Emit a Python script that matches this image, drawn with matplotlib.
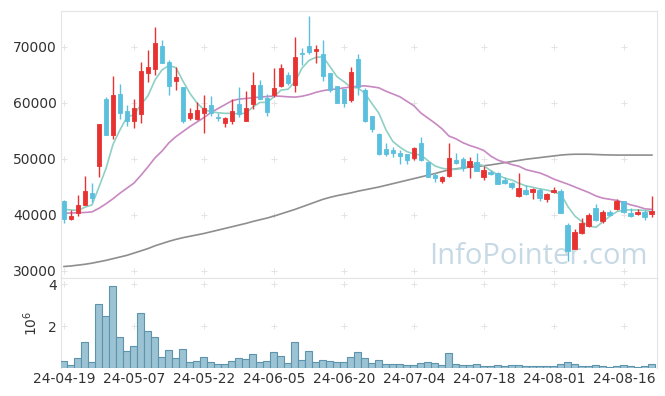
import numpy as np
import matplotlib as mpl
mpl.use('Agg')
import matplotlib.pyplot as plt

mpl.rcParams['font.family'] = ['DejaVu Sans']

# daily candles, 85 trading days (24-04-19 .. 24-08-22)
opens = [42500, 39350, 40300, 41800, 43900, 48800, 60700, 54300, 61600, 58600,
         56800, 58100, 65400, 66100, 70200, 67300, 64000, 62800, 57400, 57150,
         58300, 59650, 57500, 56500, 56800, 59800, 56850, 59900, 63200, 60950,
         61500, 63100, 65000, 63300, 68900, 70200, 69200, 68750, 65350, 63050,
         62500, 60600, 67900, 62300, 57700, 54450, 51800, 51600, 51050, 50850,
         50250, 52850, 49450, 47150, 46150, 47000, 49900, 50050, 48500, 49550,
         46850, 47750, 47550, 46250, 45650, 43400, 44450, 44050, 44450, 42800,
         44100, 44300, 38200, 34000, 36850, 38100, 41200, 38850, 40600, 41000,
         42450, 40400, 40100, 40600, 40200]
highs = [42700, 40900, 43600, 47000, 45700, 56250, 61000, 64800, 63400, 59600,
         60700, 67300, 69500, 73600, 71250, 67700, 66500, 62800, 59050, 60250,
         61400, 61250, 58300, 57550, 60750, 62900, 62100, 65600, 64100, 61550,
         66200, 66950, 65600, 71700, 69750, 75500, 70350, 71250, 65400, 63100,
         62500, 66350, 68800, 62600, 57700, 54700, 52800, 52100, 51600, 50850,
         52100, 54000, 49450, 47550, 46950, 52800, 51000, 50400, 50400, 51000,
         48750, 48050, 47650, 46850, 45950, 47550, 45350, 44800, 44800, 43900,
         45050, 44600, 38500, 37550, 39400, 40300, 41950, 40900, 40900, 42800,
         42550, 41200, 41000, 40900, 43400]
lows = [38500, 39100, 39900, 41800, 42400, 46700, 54300, 53500, 57100, 55900,
        55600, 56400, 63750, 65000, 67100, 61400, 62300, 56400, 56950, 56950,
        54600, 57700, 56800, 55750, 56200, 57550, 56850, 59000, 60700, 57700,
        61000, 62900, 63200, 62000, 66800, 68700, 67100, 64000, 61900, 59950,
        59250, 60150, 61400, 56650, 54750, 50700, 50600, 50300, 49050, 49050,
        49800, 49700, 46700, 45850, 45750, 46850, 49100, 47900, 46650, 47800,
        46250, 47100, 45450, 45500, 44700, 43300, 43550, 42900, 42550, 42400,
        43850, 40300, 31850, 33850, 36600, 37900, 39000, 38650, 39800, 40900,
        40300, 39700, 40000, 39100, 39600]
closes = [39300, 39800, 41800, 44300, 43100, 56250, 54300, 61400, 58200, 56800,
          59100, 65700, 66400, 70800, 67200, 63000, 64600, 56800, 58150, 58750,
          59100, 58300, 57400, 57300, 58550, 58000, 59100, 63200, 60800, 58400,
          62700, 66250, 63650, 68200, 68800, 69100, 69650, 64900, 62300, 60050,
          60050, 65550, 62850, 56800, 55400, 50900, 50900, 51150, 50600, 49900,
          51900, 49900, 46750, 46600, 46750, 50100, 49350, 48350, 49600, 47900,
          48050, 47400, 45500, 45700, 44950, 44800, 43750, 44650, 43050, 43750,
          44450, 40350, 33650, 36950, 38500, 39950, 39100, 40550, 40000, 42450,
          40600, 39800, 40600, 39600, 40750]
# volume in millions of shares
volume = [0.32, 0.13, 0.46, 1.22, 0.27, 3.03, 2.46, 3.89, 1.46, 0.79,
          1.03, 2.60, 1.75, 1.46, 0.51, 0.84, 0.46, 0.89, 0.27, 0.32,
          0.51, 0.27, 0.17, 0.17, 0.32, 0.46, 0.41, 0.65, 0.27, 0.32,
          0.75, 0.56, 0.22, 1.22, 0.37, 0.79, 0.27, 0.37, 0.32, 0.27,
          0.27, 0.51, 0.75, 0.46, 0.22, 0.37, 0.17, 0.17, 0.17, 0.13,
          0.13, 0.22, 0.27, 0.22, 0.13, 0.70, 0.17, 0.13, 0.13, 0.17,
          0.08, 0.08, 0.13, 0.08, 0.13, 0.13, 0.08, 0.08, 0.08, 0.08,
          0.08, 0.17, 0.27, 0.17, 0.08, 0.08, 0.13, 0.08, 0.03, 0.08,
          0.13, 0.08, 0.03, 0.08, 0.17]
# moving averages
ma5 = [41000, 40900, 40800, 41400, 41800, 45000, 48300, 52600, 55200, 57500,
       57900, 59700, 61300, 64100, 65900, 66700, 66300, 63900, 61700, 60000,
       58800, 58450, 58250, 58150, 58150, 58050, 58200, 59300, 60100, 60100,
       61100, 62300, 62450, 63800, 66200, 67600, 68150, 68250, 66500, 64700,
       63800, 62800, 62700, 61700, 59900, 58150, 55200, 53100, 52100, 51300,
       50900, 50700, 49700, 48750, 48350, 48150, 48150, 48350, 48750, 49200,
       48750, 47900, 47150, 46550, 46250, 45650, 45200, 44950, 44650, 44450,
       44100, 43700, 41500, 39800, 38800, 38050, 37800, 38800, 39800, 40600,
       40900, 40900, 40900, 40800, 40600]
ma20 = [40300, 40350, 40400, 40450, 40550, 41200, 42000, 42900, 43900, 44800,
        45700, 47100, 48600, 50200, 51400, 52900, 54000, 54900, 55800, 56600,
        57400, 58300, 59000, 59700, 60400, 60700, 60800, 60950, 61050, 61150,
        61250, 61200, 61100, 61050, 61200, 61500, 61900, 62200, 62400, 62500,
        62700, 62850, 63000, 63050, 62900, 62700, 62100, 61600, 61100, 60300,
        59500, 58200, 57300, 56400, 55400, 54100, 53600, 52900, 52400, 52000,
        51500, 50500, 49800, 49400, 49000, 48700, 48100, 47800, 47500, 47000,
        46400, 45950, 45500, 45000, 44500, 44000, 43400, 43000, 42800, 42600,
        42200, 41800, 41500, 41100, 41000]
ma60 = [30800, 30900, 31050, 31200, 31400, 31650, 31900, 32200, 32500, 32800,
        33200, 33600, 34000, 34500, 34900, 35300, 35650, 35950, 36200, 36450,
        36700, 37000, 37300, 37600, 37900, 38200, 38500, 38850, 39150, 39450,
        39800, 40200, 40600, 41000, 41450, 41900, 42350, 42800, 43150, 43450,
        43700, 43950, 44250, 44500, 44750, 45000, 45300, 45600, 45900, 46200,
        46500, 46800, 47100, 47400, 47750, 48050, 48250, 48400, 48550, 48650,
        48800, 48950, 49150, 49350, 49550, 49750, 49950, 50100, 50250, 50400,
        50550, 50700, 50800, 50850, 50850, 50850, 50800, 50750, 50720, 50700,
        50700, 50700, 50700, 50700, 50700]

tick_labels = ['24-04-19', '24-05-07', '24-05-22', '24-06-05', '24-06-20',
               '24-07-04', '24-07-18', '24-08-01', '24-08-16']
price_ticks = [30000, 40000, 50000, 60000, 70000]
vol_ticks = [2, 4]

up_color = '#e83232'
down_color = '#5bc0de'
grid_color = '#e4e4e4'
text_color = '#333333'

o = np.array(opens)
c = np.array(closes)
x = np.arange(len(o))
rising = c >= o
colors = np.where(rising, up_color, down_color)

fig = plt.figure(figsize=(6.65, 3.96), dpi=100)
ax = fig.add_axes([0.0917, 0.298, 0.8957, 0.675])
ax2 = fig.add_axes([0.0917, 0.0707, 0.8957, 0.2273], sharex=ax)

# moving averages
ax.plot(x, ma60, color='#8e8e8e', lw=1.2, zorder=2)
ax.plot(x, ma20, color='#c888c2', lw=1.2, zorder=2)
ax.plot(x, ma5, color='#8fd0c4', lw=1.2, zorder=2)

# candles
ax.vlines(x, lows, highs, colors=colors, lw=1.0, zorder=3)
ax.bar(x, np.abs(c - o), bottom=np.minimum(o, c), width=0.7,
       color=colors, edgecolor=colors, linewidth=0.6, zorder=4)

ax.set_xlim(-0.43, 84.67)
ax.set_ylim(28750, 76480)
ax.set_yticks(price_ticks)
ax.set_yticklabels([str(v) for v in price_ticks])

# volume
ax2.bar(x, volume, width=1.0, color='#9bc3d4', edgecolor='#5d93ac',
        linewidth=0.8, zorder=3)
ax2.set_ylim(0, 4.29)
ax2.set_yticks(vol_ticks)
ax2.set_ylabel(r'$10^6$', fontsize=10, color=text_color, labelpad=6)

xt = list(range(0, 90, 10))[:len(tick_labels)]
ax2.set_xticks(xt)
ax2.set_xticklabels(tick_labels)
plt.setp(ax.get_xticklabels(), visible=False)

for a, yt in [(ax, price_ticks), (ax2, vol_ticks)]:
    a.tick_params(length=0, labelsize=10, colors=text_color, pad=3)
    for s in a.spines.values():
        s.set_color(grid_color)
    a.spines['bottom'].set_visible(a is ax)
    # small plus marks at the grid crossings
    gx, gy = np.meshgrid(xt, yt)
    a.plot(gx.ravel(), gy.ravel(), ls='none', marker='+', ms=4.5, mew=0.7,
           color=grid_color, zorder=1, clip_on=False)

ax.text(0.985, 0.025, 'InfoPointer.com', transform=ax.transAxes,
        ha='right', va='bottom', fontsize=21, color='#c6d9e4',
        family='Open Sans', zorder=0)

fig.savefig('out.png', dpi=100)
